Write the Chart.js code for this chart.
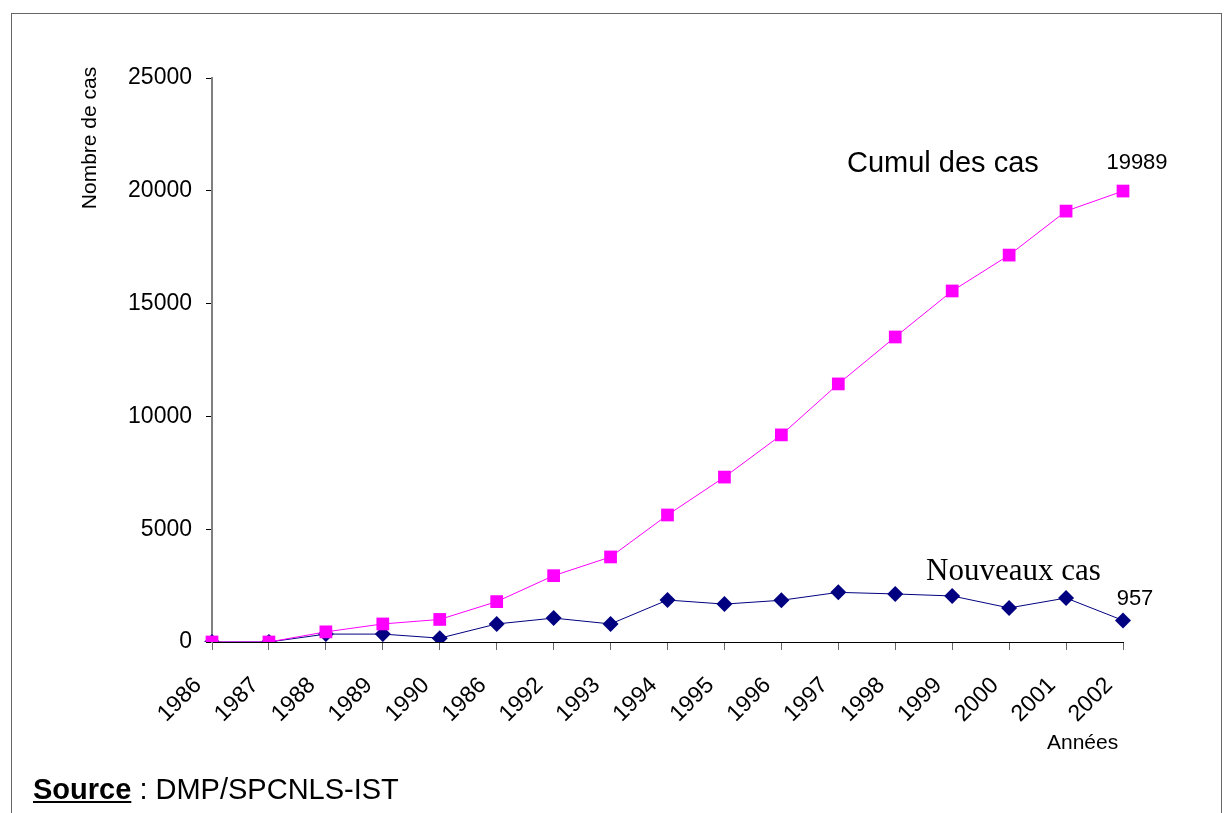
<!DOCTYPE html>
<html lang="fr">
<head>
<meta charset="utf-8"/>
<title>Nombre de cas</title>
<script src="https://cdn.jsdelivr.net/npm/chart.js"></script>
<style>
body { margin: 0; background: #fff; }
#wrap { position: relative; width: 1224px; height: 813px; overflow: hidden; font-family: Arial, 'Liberation Sans', sans-serif; }
#frame { position: absolute; left: 11px; top: 13px; width: 1209px; height: 820px; border: 1px solid #666; }
#source { position: absolute; left: 33px; top: 773px; font-size: 29px; color: #000; }
#source b { text-decoration: underline; }
canvas { position: absolute; left: 0; top: 0; }
</style>
</head>
<body>
<div id="wrap">
  <div id="frame"></div>
  <canvas id="chart" width="1224" height="813"></canvas>
  <div id="source"><b>Source</b> : DMP/SPCNLS-IST</div>
</div>
<script>
// années (le "1986" en 6e position est tel quel dans l'original)
const years = ["1986", "1987", "1988", "1989", "1990", "1986", "1992", "1993", "1994",
               "1995", "1996", "1997", "1998", "1999", "2000", "2001", "2002"];
const cumulCas = [0, 0, 450, 800, 1000, 1790, 2940, 3770, 5630, 7310, 9180, 11440,
                  13520, 15560, 17150, 19100, 19989];
const nouveauxCas = [0, 0, 350, 350, 170, 800, 1060, 800, 1860, 1680, 1850, 2200,
                     2130, 2040, 1510, 1950, 957];
const yTicks = [0, 5000, 10000, 15000, 20000, 25000];

// textes posés sur le graphique
const annotations = {
  id: "annotations",
  afterDraw(chart) {
    const ctx = chart.ctx;
    const x = chart.scales.x, y = chart.scales.y;
    const last = years.length - 1;
    ctx.save();
    ctx.fillStyle = "#000";
    ctx.textBaseline = "alphabetic";

    ctx.font = "29px Arial, 'Liberation Sans'";
    ctx.textAlign = "left";
    ctx.fillText("Cumul des cas", 847, 172);

    ctx.font = "22px Arial, 'Liberation Sans'";
    ctx.textAlign = "center";
    ctx.fillText(String(cumulCas[last]), x.getPixelForValue(last) + 14, y.getPixelForValue(cumulCas[last]) - 22);
    ctx.fillText(String(nouveauxCas[last]), x.getPixelForValue(last) + 12, y.getPixelForValue(nouveauxCas[last]) - 15);

    ctx.font = "31px 'Liberation Serif', 'Times New Roman', serif";
    ctx.textAlign = "left";
    ctx.fillText("Nouveaux cas", 926, 580);

    ctx.font = "21px Arial, 'Liberation Sans'";
    ctx.textAlign = "left";
    ctx.fillText("Années", 1047, 749);

    // titre de l'axe Y
    ctx.translate(96, 138);
    ctx.rotate(-Math.PI / 2);
    ctx.font = "21px Arial, 'Liberation Sans'";
    ctx.textAlign = "center";
    ctx.fillText("Nombre de cas", 0, 0);
    ctx.restore();
  }
};

Chart.defaults.font.family = "Arial, 'Liberation Sans', sans-serif";
Chart.defaults.color = "#000";

new Chart(document.getElementById("chart"), {
  type: "line",
  data: {
    labels: years,
    datasets: [
      {
        label: "Cumul des cas",
        data: cumulCas,
        borderColor: "#FF00FF",
        backgroundColor: "#FF00FF",
        borderWidth: 1,
        pointStyle: "rect",
        pointRadius: 9,
        pointBorderWidth: 0,
        tension: 0
      },
      {
        label: "Nouveaux cas",
        data: nouveauxCas,
        borderColor: "#000080",
        backgroundColor: "#000080",
        borderWidth: 1,
        pointStyle: "rectRot",
        pointRadius: 8,
        pointBorderWidth: 0,
        tension: 0
      }
    ]
  },
  options: {
    responsive: false,
    animation: false,
    layout: { padding: { left: 0, top: 78, right: 101, bottom: 0 } },
    plugins: {
      legend: { display: false },
      tooltip: { enabled: false }
    },
    scales: {
      x: {
        offset: false,
        afterFit(scale) { scale.height = 171; },
        border: { color: "#000", width: 1 },
        grid: { drawOnChartArea: false, drawTicks: true, tickLength: 8, color: "#666" },
        ticks: {
          font: { size: 23 },
          maxRotation: 45,
          minRotation: 45,
          autoSkip: false,
          padding: 22,
          labelOffset: -14
        }
      },
      y: {
        min: 0,
        max: 25000,
        afterFit(scale) { scale.width = 212; },
        afterBuildTicks(scale) { scale.ticks = yTicks.map(v => ({ value: v })); },
        border: { color: "#808080", width: 2 },
        grid: { drawOnChartArea: false, drawTicks: true, tickLength: 6, color: "#000" },
        ticks: {
          font: { size: 23 },
          padding: 14,
          callback: v => String(v)
        }
      }
    }
  },
  plugins: [annotations]
});
</script>
</body>
</html>
